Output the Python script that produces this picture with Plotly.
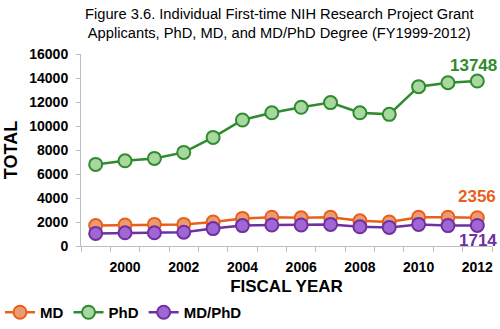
import plotly.graph_objects as go

years = list(range(1999, 2013))
md = [1700, 1750, 1800, 1800, 2000, 2300, 2400, 2350, 2400, 2100, 2000, 2400, 2400, 2356]
phd = [6800, 7100, 7300, 7800, 9050, 10500, 11100, 11560, 11950, 11100, 10970, 13280, 13610, 13748]
mdphd = [1050, 1100, 1100, 1150, 1450, 1700, 1750, 1750, 1800, 1600, 1550, 1800, 1700, 1714]

series = [
    ("MD", md, "#E8601C", "#EC9A72"),
    ("PhD", phd, "#2E8B2E", "#A8D8A0"),
    ("MD/PhD", mdphd, "#7030A0", "#A066D3"),
]

fnt = "Liberation Sans, Arial"
fig = go.Figure()
for name, vals, lc, fc in series:
    fig.add_trace(go.Scatter(
        x=years, y=vals, name=f"<b>{name}</b>", mode="lines+markers",
        line=dict(color=lc, width=2.5),
        marker=dict(size=13, color=fc, line=dict(color=lc, width=2)),
    ))

fig.add_annotation(x=years[-1], y=phd[-1], text=f"<b>{phd[-1]}</b>", showarrow=False,
                   xshift=-4, yshift=16, font=dict(family=fnt, size=17, color="#2E8B2E"))
fig.add_annotation(x=years[-1], y=md[-1], text=f"<b>{md[-1]}</b>", showarrow=False,
                   xshift=0, yshift=21, font=dict(family=fnt, size=17, color="#E8601C"))
fig.add_annotation(x=years[-1], y=mdphd[-1], text=f"<b>{mdphd[-1]}</b>", showarrow=False,
                   xshift=1, yshift=-15, font=dict(family=fnt, size=17, color="#7030A0"))

fig.add_annotation(xref="paper", yref="paper", x=0.482, y=1.26, xanchor="center", yanchor="top",
                   showarrow=False, align="center",
                   text="Figure 3.6. Individual First-time NIH Research Project Grant<br>Applicants, PhD, MD, and MD/PhD Degree (FY1999-2012)",
                   font=dict(family=fnt, size=14.7, color="black"))

fig.update_layout(
    width=500, height=329,
    margin=dict(l=81, r=8, t=54, b=83, autoexpand=False),
    paper_bgcolor="white", plot_bgcolor="white",
    showlegend=True,
    legend=dict(orientation="h", x=0.0, y=0.0, xref="container", yref="container",
                xanchor="left", yanchor="bottom",
                font=dict(family=fnt, size=15, color="black"),
                tracegroupgap=0, bgcolor="rgba(0,0,0,0)"),
    font=dict(family=fnt, color="black"),
)
fig.update_xaxes(
    range=[1998.5, 2012.5], tickvals=list(range(2000, 2013, 2)),
    ticktext=[f"<b>{y}</b>" for y in range(2000, 2013, 2)],
    tickfont=dict(family=fnt, size=14, color="black"),
    showgrid=False, zeroline=False, showline=True, linecolor="#BFBFBF", linewidth=1,
    ticks="", automargin=False, ticklabelstandoff=8,
    minor=dict(tick0=1998.5, dtick=1, ticks="outside", ticklen=5, tickcolor="#BFBFBF", showgrid=False),
    title=dict(text="<b>FISCAL YEAR</b>", font=dict(family=fnt, size=17, color="black"), standoff=12),
)
fig.update_yaxes(
    range=[0, 16000], tickvals=list(range(0, 16001, 2000)),
    ticktext=[f"<b>{v}</b>" for v in range(0, 16001, 2000)],
    tickfont=dict(family=fnt, size=14, color="black"),
    showgrid=False, zeroline=False, showline=True, linecolor="#BFBFBF", linewidth=1,
    ticks="outside", ticklen=4, tickcolor="#BFBFBF", automargin=False, ticklabelstandoff=5,
    title=dict(text="<b>TOTAL</b>", font=dict(family=fnt, size=18, color="black"), standoff=6),
)
fig.write_html("out.html")
